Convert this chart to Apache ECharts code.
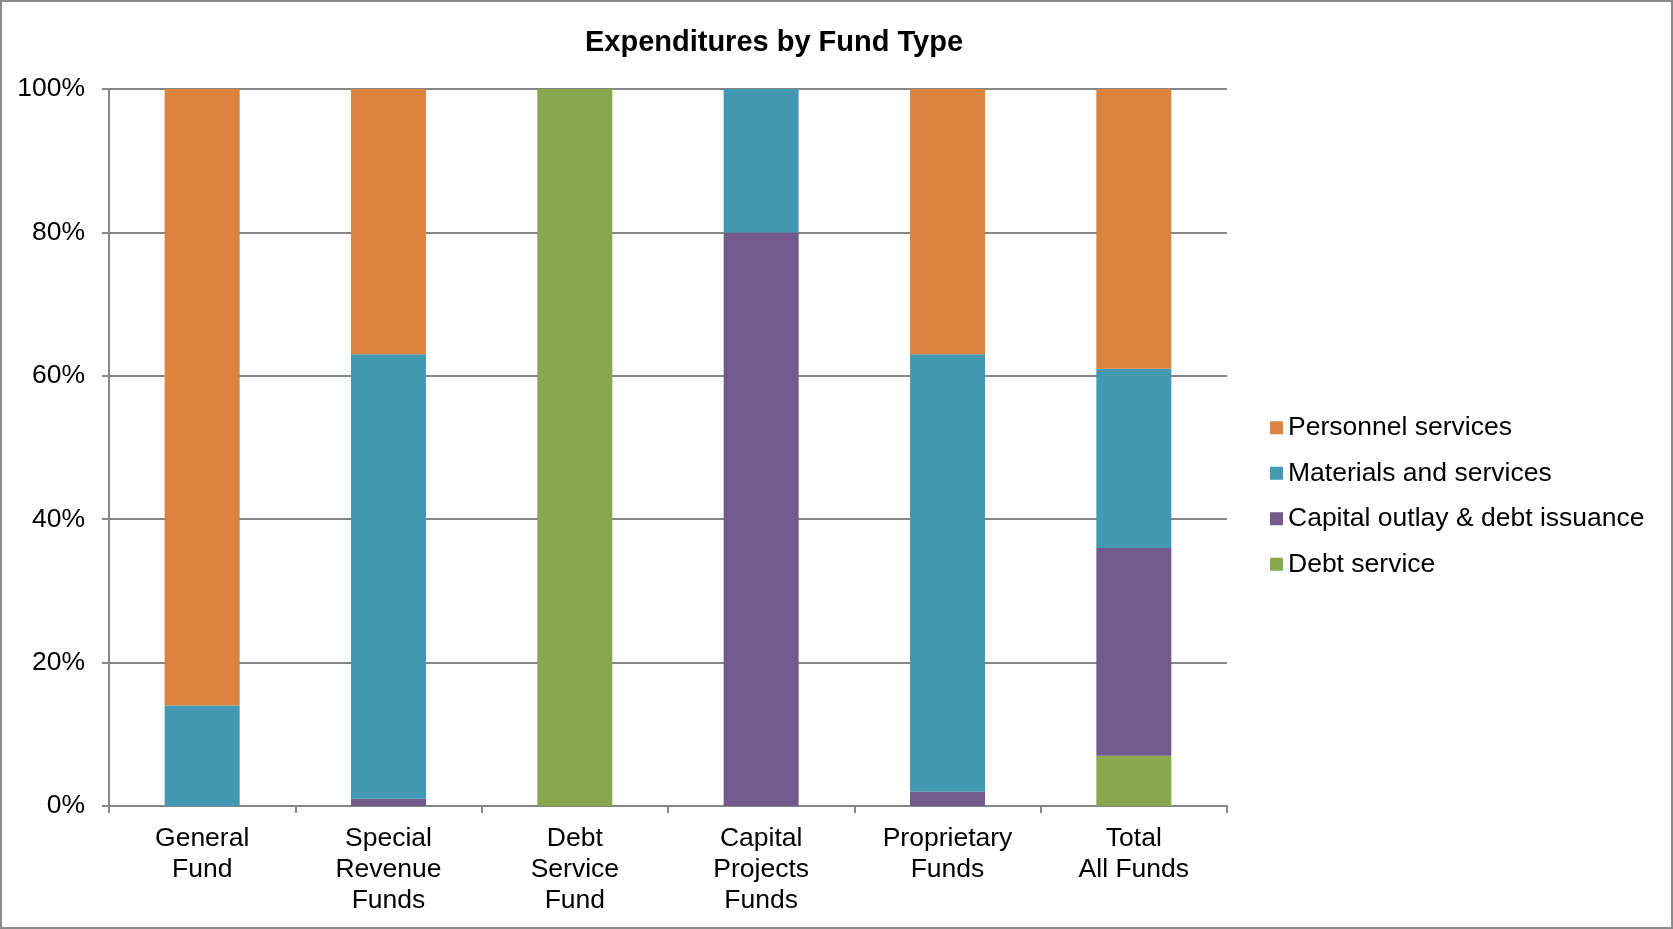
<!DOCTYPE html>
<html>
<head>
<meta charset="utf-8">
<title>Expenditures by Fund Type</title>
<script src="https://cdn.jsdelivr.net/npm/echarts@6/dist/echarts.min.js"></script>
<style>
    html, body { margin: 0; padding: 0; background: #fff; }
    #chart-box { width: 1673px; height: 929px; box-sizing: border-box; border: 2px solid #8c8c8c; }
</style>
</head>
<body>
<div id="chart-box"></div>
<script>
// categories (x axis)
var funds = ['General\nFund', 'Special\nRevenue\nFunds', 'Debt\nService\nFund', 'Capital\nProjects\nFunds', 'Proprietary\nFunds', 'Total\nAll Funds']
// share of each fund, in percent
var personnel = [86, 37, 0, 0, 37, 39]
var materials = [14, 62, 0, 20, 61, 25]
var capital = [0, 1, 0, 80, 2, 29]
var debtService = [0, 0, 100, 0, 0, 7]
var yTicks = [0, 20, 40, 60, 80, 100]

var myChart = echarts.init(document.getElementById('chart-box'))

var labelFont = 'Liberation Sans, Arial, sans-serif'

function barSeries(name, data, color) {
    return {
        name: name,
        type: 'bar',
        stack: 'all',
        data: data,
        barWidth: 75,
        itemStyle: { color: color }
    }
}

var option = {
    animation: false,
    title: {
        text: 'Expenditures by Fund Type',
        left: 767,
        top: 21,
        textAlign: 'center',
        textStyle: { fontFamily: labelFont, fontSize: 29, fontWeight: 'bold', color: '#000' }
    },
    legend: {
        orient: 'vertical',
        left: 1263,
        top: 407,
        itemWidth: 13,
        itemHeight: 13,
        itemGap: 18,
        icon: 'rect',
        data: ['Personnel services', 'Materials and services', 'Capital outlay & debt issuance', 'Debt service'],
        textStyle: { fontFamily: labelFont, fontSize: 26.5, color: '#000', lineHeight: 27.5 }
    },
    grid: { left: 107, right: 444, top: 87, bottom: 121, containLabel: false },
    xAxis: {
        type: 'category',
        data: funds,
        axisLine: { lineStyle: { color: '#868686', width: 2 } },
        axisTick: { show: true, length: 7, alignWithLabel: false, lineStyle: { color: '#868686', width: 2 } },
        axisLabel: { fontFamily: labelFont, fontSize: 26.5, color: '#000', lineHeight: 31, margin: 17, interval: 0 }
    },
    yAxis: {
        type: 'value',
        min: yTicks[0],
        max: yTicks[yTicks.length - 1],
        interval: 20,
        axisLine: { show: true, lineStyle: { color: '#868686', width: 2 } },
        axisTick: { show: true, length: 7, inside: false, lineStyle: { color: '#868686', width: 2 } },
        splitLine: { lineStyle: { color: '#868686', width: 2 } },
        axisLabel: { fontFamily: labelFont, fontSize: 26.5, color: '#000', margin: 24,
            formatter: function (v) { return v + '%' } }
    },
    series: [
        // bottom of the stack first
        barSeries('Debt service', debtService, '#8ba74d'),
        barSeries('Capital outlay & debt issuance', capital, '#725a8d'),
        barSeries('Materials and services', materials, '#4299b1'),
        barSeries('Personnel services', personnel, '#dc843f')
    ]
}

myChart.setOption(option)
</script>
</body>
</html>
